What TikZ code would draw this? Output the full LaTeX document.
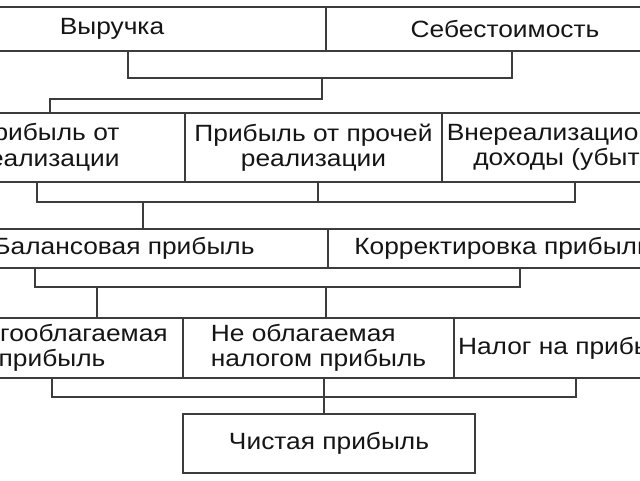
\documentclass[tikz,border=0pt]{standalone}
\usepackage{fontspec}
\setmainfont{Liberation Sans}[FakeStretch=1.12]
\definecolor{lc}{HTML}{3C3C3C}
\definecolor{tc}{HTML}{151515}
\begin{document}
\begin{tikzpicture}[x=1pt,y=-1pt,
  box/.style={draw=lc, line width=1.5pt, inner sep=0pt, align=center, text=tc,
    font=\fontsize{23.5}{25.5}\selectfont},
  conn/.style={draw=lc, line width=1.5pt}]
\useasboundingbox (0,0) rectangle (640,480);
\fill[white] (0,0) rectangle (640,480);
\clip (0,0) rectangle (640,480);
% row 1
\node[box, minimum width=428pt, minimum height=44pt] (r1a) at (112,29) {Выручка};
\node[box, minimum width=358pt, minimum height=44pt] (r1b) at (505,29) {Себестоимость};
% row 2
\node[box, minimum width=276pt, minimum height=69pt] (r2a) at (47,147.5) {Прибыль от\\реализации};
\node[box, minimum width=257pt, minimum height=69pt] (r2b) at (313.5,147.5) {Прибыль от прочей\\реализации};
\node[box, minimum width=264pt, minimum height=69pt] (r2c) at (574,147.5) {Внереализационные\\доходы (убытки)};
% row 3
\node[box, minimum width=408pt, minimum height=39pt] (r3a) at (124,248.5) {Балансовая прибыль};
\node[box, minimum width=350pt, minimum height=39pt] (r3b) at (503,248.5) {Корректировка прибыли};
% row 4
\node[box, minimum width=262pt, minimum height=60pt] (r4a) at (52,348) {Налогооблагаемая\\прибыль};
\node[box, align=left, minimum width=271pt, minimum height=60pt] (r4b) at (318.5,348) {Не облагаемая\\налогом прибыль};
\node[box, minimum width=232pt, minimum height=60pt] (r4c) at (570,348) {Налог на прибыль};
% final
\node[box, minimum width=292pt, minimum height=59pt] (fin) at (329,443.5) {Чистая прибыль};
% bus coordinates
\coordinate (b1l) at (128,78);
\coordinate (b1r) at (512,78);
\coordinate (b1m) at (322,78);
\coordinate (b1k) at (322,99);
\coordinate (b1e) at (50,99);
\coordinate (b2a) at (37,202);
\coordinate (b2b) at (318,202);
\coordinate (b2c) at (575,202);
\coordinate (b2d) at (143,202);
\coordinate (b3a) at (35,287);
\coordinate (b3b) at (520,287);
\coordinate (b3c) at (97,287);
\coordinate (b3d) at (326,287);
\coordinate (b4a) at (52,397);
\coordinate (b4b) at (324,397);
\coordinate (b4c) at (576,397);
% connectors
\draw[conn] (r1a.south -| b1l) -- (b1l) -- (b1r) -- (r1b.south -| b1r);
\draw[conn] (b1m) -- (b1k) -- (b1e) -- (r2a.north -| b1e);
\draw[conn] (r2a.south -| b2a) -- (b2a) -- (b2c) -- (r2c.south -| b2c);
\draw[conn] (r2b.south -| b2b) -- (b2b);
\draw[conn] (b2d) -- (r3a.north -| b2d);
\draw[conn] (r3a.south -| b3a) -- (b3a) -- (b3b) -- (r3b.south -| b3b);
\draw[conn] (b3c) -- (r4a.north -| b3c);
\draw[conn] (b3d) -- (r4b.north -| b3d);
\draw[conn] (r4a.south -| b4a) -- (b4a) -- (b4c) -- (r4c.south -| b4c);
\draw[conn] (r4b.south -| b4b) -- (fin.north -| b4b);
\end{tikzpicture}
\end{document}
